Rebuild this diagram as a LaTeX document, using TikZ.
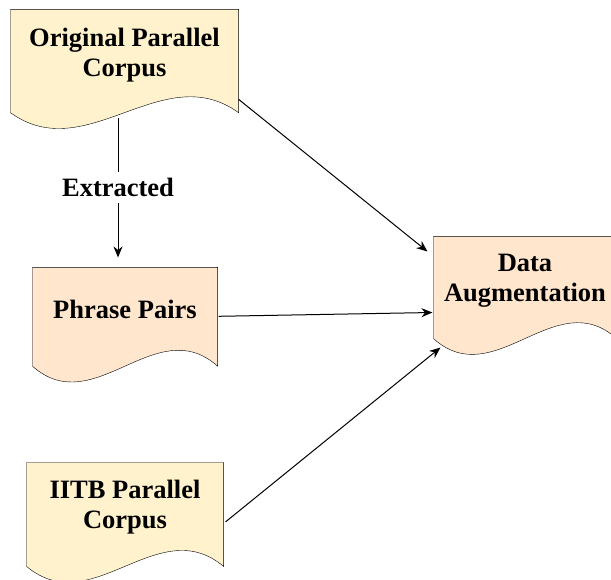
\documentclass[tikz,border=0pt]{standalone}
\usepackage{fontspec}
\setmainfont{Liberation Serif}
\usetikzlibrary{arrows.meta,calc,backgrounds}
\definecolor{paleyellow}{HTML}{FFF2CC}
\definecolor{paleorange}{HTML}{FFE6CC}

% document outline behind a node: name, drop of wave ends, fill
\newcommand{\docshape}[3]{%
  \filldraw[fill=#3] (#1.north west) -- (#1.north east) -- ($(#1.south east)+(0,#2)$)
    .. controls ($(#1.south west)!2/3!(#1.south east)+(0,#2-55)$)
    and ($(#1.south west)!1/3!(#1.south east)+(0,#2+55)$) .. ($(#1.south west)+(0,#2)$) -- cycle;}

\begin{document}
\begin{tikzpicture}[x=1pt, y=-1pt, line width=1.1pt,
    box/.style={inner sep=0pt, align=center, font=\fontsize{26.5}{30}\selectfont\bfseries},
    link/.style={-{Stealth[length=11pt,width=9pt]}, line width=1pt}]
    \useasboundingbox (0,0) rectangle (611,580);

    \node (orig) [box, minimum width=227pt, minimum height=90.6pt] at (124.5,55.3) {Original Parallel\\Corpus};
    \node (phrase) [box, minimum width=184pt, minimum height=82.6pt] at (125,309.3) {Phrase Pairs};
    \node (iitb) [box, minimum width=196pt, minimum height=87.8pt] at (125,506.9) {IITB Parallel\\Corpus};
    \node (aug) [box, minimum width=182pt, minimum height=87pt] at (525,280.5) {Data\\Augmentation};

    \begin{scope}[on background layer]
        \clip (0,0) rectangle (611,580);
        \docshape{orig}{11.5}{paleyellow}
        \docshape{phrase}{15}{paleorange}
        \docshape{iitb}{15}{paleyellow}
        \docshape{aug}{14}{paleorange}
    \end{scope}

    \draw [link] ([xshift=-6.5pt,yshift=-17pt]orig.south) -- node [box, fill=white, inner sep=6pt] {Extracted} ([xshift=-7pt,yshift=10pt]phrase.north);
    \draw [link] ([yshift=-44pt]orig.east) -- ([xshift=-6pt,yshift=29pt]aug.west);
    \draw [link] ([xshift=1pt,yshift=-7pt]phrase.east) -- ([xshift=-1pt,yshift=-32pt]aug.west);
    \draw [link] ([xshift=2pt,yshift=-15pt]iitb.east) -- ([xshift=7pt,yshift=-23pt]aug.south west);
\end{tikzpicture}
\end{document}
